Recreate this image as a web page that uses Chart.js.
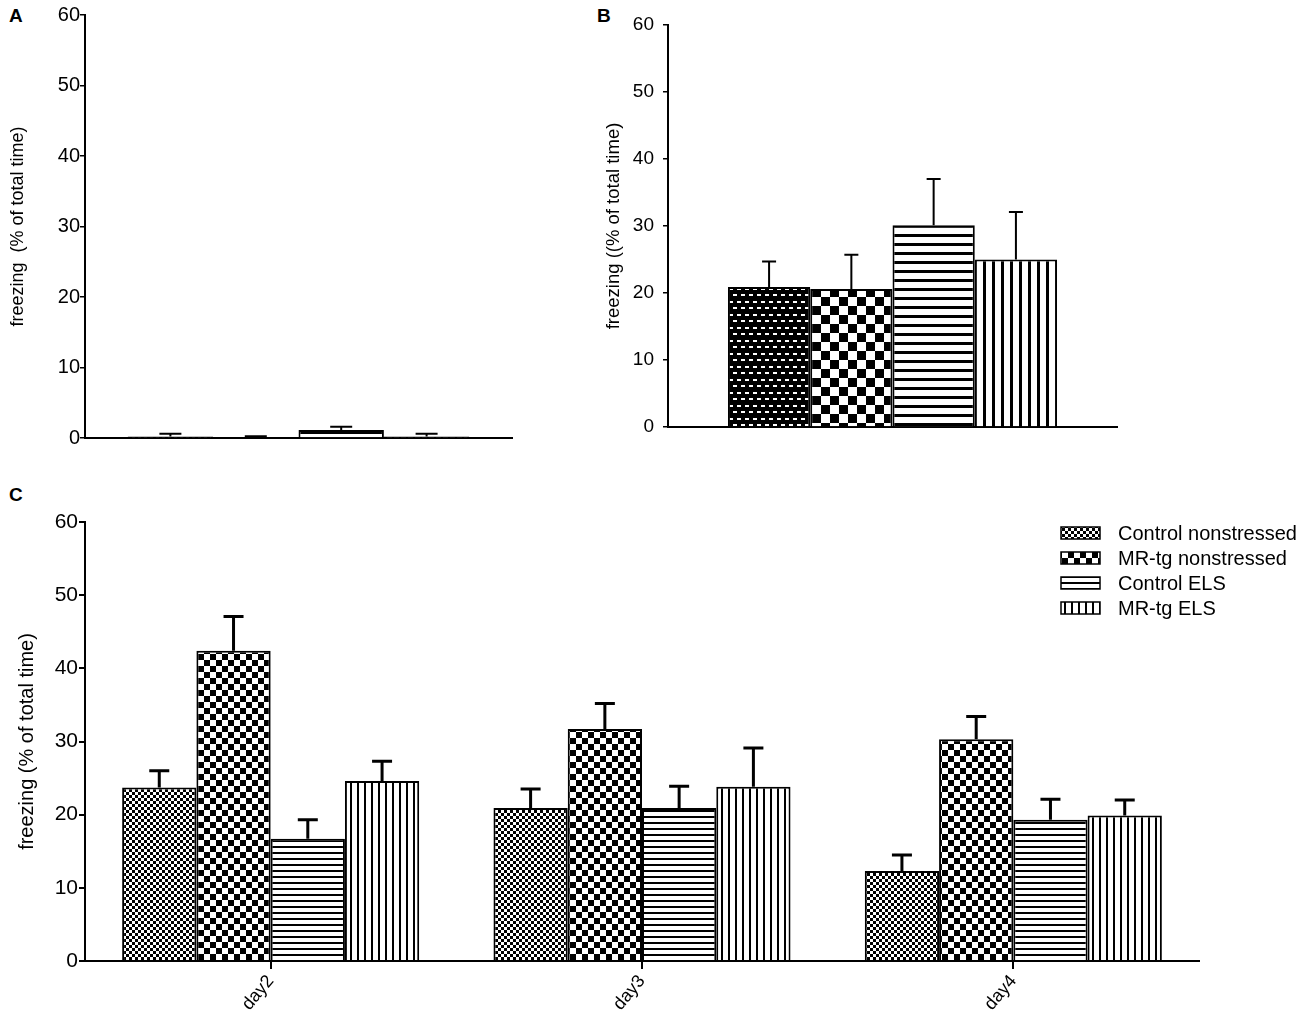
<!DOCTYPE html>
<html><head><meta charset="utf-8">
<script src="https://cdn.jsdelivr.net/npm/chart.js@4.4.1/dist/chart.umd.min.js"></script>
<style>
body{margin:0;background:#fff;width:1300px;height:1020px;position:relative;overflow:hidden;font-family:"Liberation Sans",Arial,sans-serif;}
canvas{position:absolute;}
.lbl{position:absolute;font-weight:bold;font-size:19px;color:#000;line-height:19px;}
</style></head><body>
<div class="lbl" style="left:9px;top:6px">A</div>
<div class="lbl" style="left:597px;top:6px">B</div>
<div class="lbl" style="left:9px;top:485px">C</div>
<canvas id="cA" width="560" height="470" style="left:0;top:0"></canvas>
<canvas id="cB" width="740" height="470" style="left:560px;top:0"></canvas>
<canvas id="cC" width="1300" height="540" style="left:0;top:480px"></canvas>
<script>
// ---- data ----
const groups = ['Control nonstressed','MR-tg nonstressed','Control ELS','MR-tg ELS'];
const yTicks = [0,10,20,30,40,50,60];
const panelA_mean = [0.2, 0.1, 1.15, 0.2];
const panelA_sem  = [0.4, 0.15, 0.45, 0.4];
const panelB_mean = [20.9, 20.6, 30.1, 25.0];
const panelB_sem  = [3.8, 5.1, 6.9, 7.1];
const days = ['day2','day3','day4'];
const ctrlNs_mean  = [23.7, 20.9, 12.3];
const ctrlNs_sem   = [2.3, 2.6, 2.2];
const mrNs_mean    = [42.4, 31.7, 30.3];
const mrNs_sem     = [4.7, 3.5, 3.1];
const ctrlEls_mean = [16.7, 20.9, 19.3];
const ctrlEls_sem  = [2.6, 3.0, 2.8];
const mrEls_mean   = [24.6, 23.8, 19.9];
const mrEls_sem    = [2.7, 5.3, 2.1];
const titleA = 'freezing  (% of total time)';
const titleB = 'freezing ((% of total time)';
const titleC = 'freezing (% of total time)';

Chart.defaults.font.family = '"Liberation Sans", Arial, sans-serif';
Chart.defaults.color = '#000';

// ---- patterns ----
function tile(w,h,draw){const c=document.createElement('canvas');c.width=w;c.height=h;const g=c.getContext('2d');g.fillStyle='#fff';g.fillRect(0,0,w,h);g.fillStyle='#000';draw(g,w,h);return c;}
function checker(cell){return tile(cell*2,cell*2,(g)=>{g.fillRect(0,0,cell,cell);g.fillRect(cell,cell,cell,cell);});}
function hlines(period,th){return tile(4,period,(g,w)=>{g.fillRect(0,0,w,th);});}
function vlines(period,th){return tile(period,4,(g,w,h)=>{g.fillRect(0,0,th,h);});}
function dashes(){return tile(8,13,(g,w,h)=>{g.fillRect(0,0,w,h);g.fillStyle='#fff';g.fillRect(1,2,4,2);g.fillRect(5,8,3,2);g.fillRect(0,8,1,2);});}

function patternsFor(ctx, big){
  if(big){
    return [ctx.createPattern(dashes(),'repeat'), ctx.createPattern(checker(9),'repeat'),
            ctx.createPattern(hlines(9,3),'repeat'), ctx.createPattern(vlines(9,3),'repeat')];
  }
  return [ctx.createPattern(checker(3),'repeat'), ctx.createPattern(checker(6),'repeat'),
          ctx.createPattern(hlines(6,2),'repeat'), ctx.createPattern(vlines(7,2),'repeat')];
}

// ---- plugins ----
const errPlugin = {
  id:'errbars',
  afterDatasetsDraw(chart, args, opts){
    const ctx=chart.ctx, ys=chart.scales.y;
    chart.data.datasets.forEach((ds,i)=>{
      const meta=chart.getDatasetMeta(i);
      meta.data.forEach((bar,j)=>{
        const yTop=ys.getPixelForValue(ds.data[j]+ds.err[j]);
        ctx.save();ctx.strokeStyle='#000';ctx.lineWidth=opts.lw;ctx.lineCap='butt';
        ctx.beginPath();ctx.moveTo(bar.x,bar.y);ctx.lineTo(bar.x,yTop);
        ctx.moveTo(bar.x-opts.cap/2,yTop);ctx.lineTo(bar.x+opts.cap/2,yTop);ctx.stroke();ctx.restore();
      });
    });
  }
};
const legendPlugin = {
  id:'plegend',
  afterDraw(chart, args, opts){
    if(!opts.show) return;
    const ctx=chart.ctx;
    chart.data.datasets.forEach((ds,i)=>{
      const cy=opts.y0+i*opts.dy;
      ctx.save();
      ctx.fillStyle=ds.backgroundColor;
      ctx.fillRect(opts.x,cy-opts.bh/2,opts.bw,opts.bh);
      ctx.strokeStyle='#000';ctx.lineWidth=1.5;
      ctx.strokeRect(opts.x,cy-opts.bh/2,opts.bw,opts.bh);
      ctx.fillStyle='#000';ctx.font=opts.font;ctx.textBaseline='middle';ctx.textAlign='left';
      ctx.fillText(ds.label,opts.tx,cy+1);
      ctx.restore();
    });
  }
};

function makeChart(id, cfg){
  const cv=document.getElementById(id);
  const ctx=cv.getContext('2d');
  const pats=patternsFor(ctx,cfg.big);
  const datasets=cfg.series.map((s,i)=>({
    label:groups[i], data:s.mean, err:s.sem, backgroundColor:pats[i],
    borderColor:'#000', borderWidth:cfg.bw, borderSkipped:'bottom',
    categoryPercentage:cfg.catPct, barPercentage:1.0
  }));
  return new Chart(ctx,{
    type:'bar',
    data:{labels:cfg.labels, datasets},
    plugins:[errPlugin,legendPlugin],
    options:{
      responsive:false, animation:false, devicePixelRatio:1,
      layout:{padding:{left:0,top:cfg.top,right:cfg.right,bottom:0}},
      plugins:{legend:{display:false}, tooltip:{enabled:false},
        errbars:{lw:cfg.elw,cap:cfg.cap},
        plegend:cfg.legend||{show:false}},
      scales:{
        x:{
          grid:{display:cfg.xticks, drawOnChartArea:false, drawTicks:cfg.xticks, tickLength:8, offset:false, color:'#000', lineWidth:2},
          border:{display:true,color:'#000',width:2},
          ticks:{display:cfg.xticks, maxRotation:50, minRotation:50, font:{size:cfg.xfs}, padding:2, color:'#000'},
          afterFit(s){s.height=cfg.xh;}
        },
        y:{
          min:0,max:60,
          afterBuildTicks(s){s.ticks=yTicks.map(v=>({value:v}));},
          ticks:{font:{size:cfg.yfs},padding:cfg.ypad,color:'#000'},
          grid:{drawOnChartArea:false,drawTicks:true,tickLength:cfg.ytl,color:'#000',lineWidth:cfg.ylw},
          border:{display:true,color:'#000',width:2},
          title:{display:true,text:cfg.title,font:{size:cfg.tfs},color:'#000',padding:{top:cfg.tpad,bottom:0}},
          afterFit(s){s.width=cfg.yw;}
        }
      }
    }
  });
}

makeChart('cA',{big:false, labels:[''], series:groups.map((g,i)=>({mean:[panelA_mean[i]],sem:[panelA_sem[i]]})),
  bw:2, catPct:0.8, elw:2, cap:22, top:15, right:48, xh:32, yw:85, xticks:false, xfs:17, yfs:20, ytl:5, ylw:1.5, ypad:0,
  title:titleA, tfs:18, tpad:7});
makeChart('cB',{big:true, labels:[''], series:groups.map((g,i)=>({mean:[panelB_mean[i]],sem:[panelB_sem[i]]})),
  bw:2, catPct:0.733, elw:2, cap:14, top:25, right:183, xh:43, yw:108, xticks:false, xfs:17, yfs:19, ytl:5, ylw:1.5, ypad:9,
  title:titleB, tfs:18.5, tpad:43});
makeChart('cC',{big:false, labels:days, series:[
    {mean:ctrlNs_mean,sem:ctrlNs_sem},{mean:mrNs_mean,sem:mrNs_sem},
    {mean:ctrlEls_mean,sem:ctrlEls_sem},{mean:mrEls_mean,sem:mrEls_sem}],
  bw:2, catPct:0.8, elw:3, cap:20, top:42, right:101, xh:59, yw:85, xticks:true, xfs:18, yfs:21, ytl:6, ylw:2, ypad:1,
  title:titleC, tfs:20, tpad:15,
  legend:{show:true, x:1061, bw:39, bh:12, y0:53, dy:25, tx:1118, font:'20px "Liberation Sans", Arial, sans-serif'}});
</script>
</body></html>
